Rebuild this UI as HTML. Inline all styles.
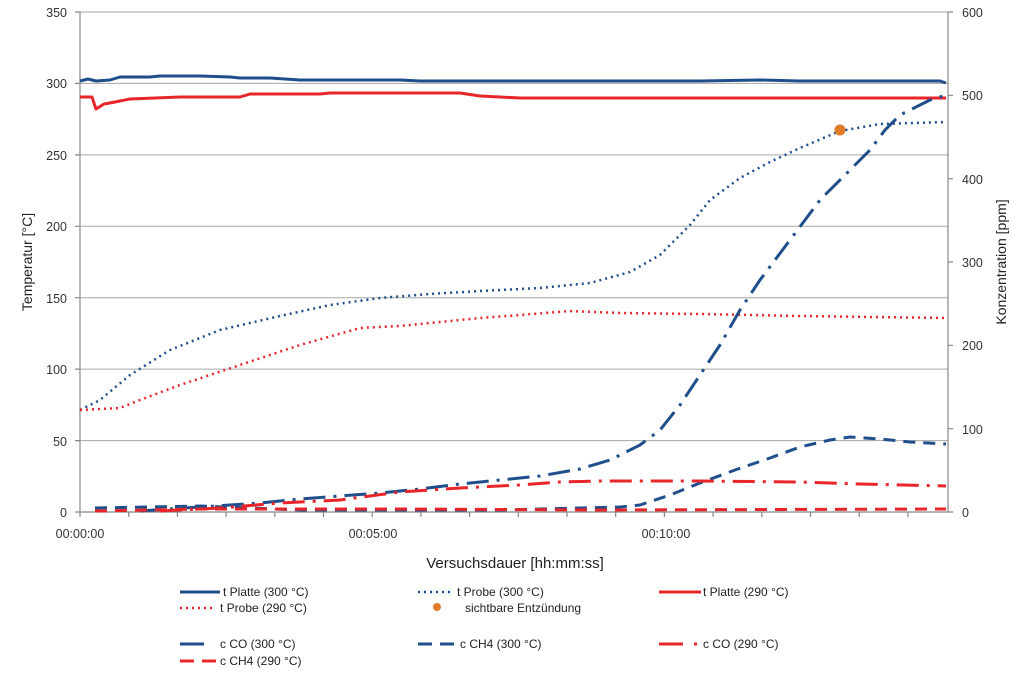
<!DOCTYPE html>
<html><head><meta charset="utf-8"><style>
body{margin:0;background:#fff;}
svg{display:block;font-family:"Liberation Sans",sans-serif;}
</style></head><body>
<svg width="1024" height="678" viewBox="0 0 1024 678">
<g stroke="#a6a6a6" stroke-width="1">
<line x1="80" y1="12" x2="948" y2="12"/><line x1="80" y1="83.4" x2="948" y2="83.4"/>
<line x1="80" y1="154.9" x2="948" y2="154.9"/><line x1="80" y1="226.3" x2="948" y2="226.3"/>
<line x1="80" y1="297.7" x2="948" y2="297.7"/><line x1="80" y1="369.1" x2="948" y2="369.1"/>
<line x1="80" y1="440.6" x2="948" y2="440.6"/>
</g>
<g stroke="#888" stroke-width="1.2" fill="none">
<line x1="80" y1="12" x2="80" y2="512"/><line x1="948" y1="12" x2="948" y2="512"/>
<line x1="75" y1="512" x2="953" y2="512"/>
<path d="M75 12h5M75 83.4h5M75 154.9h5M75 226.3h5M75 297.7h5M75 369.1h5M75 440.6h5"/>
<path d="M948 428.7h5M948 345.3h5M948 262h5M948 178.7h5M948 95.3h5M948 12h5"/>
<path d="M80 512v5M128.7 512v5M177.4 512v5M226.1 512v5M274.8 512v5M323.5 512v5M372.2 512v5M420.9 512v5M469.6 512v5M518.3 512v5M567 512v5M615.7 512v5M664.4 512v5M713.1 512v5M761.8 512v5M810.5 512v5M859.2 512v5M907.9 512v5"/>
</g>
<g font-size="12.5" fill="#333" text-anchor="end">
<text x="67" y="17">350</text><text x="67" y="88">300</text><text x="67" y="160">250</text><text x="67" y="231">200</text><text x="67" y="303">150</text><text x="67" y="374">100</text><text x="67" y="446">50</text><text x="67" y="517">0</text>
</g>
<g font-size="12.5" fill="#333">
<text x="962" y="517">0</text><text x="962" y="434">100</text><text x="962" y="350">200</text><text x="962" y="267">300</text><text x="962" y="184">400</text><text x="962" y="100">500</text><text x="962" y="17">600</text>
</g>
<g font-size="12.5" fill="#333" text-anchor="middle">
<text x="80" y="538">00:00:00</text><text x="373" y="538">00:05:00</text><text x="666" y="538">00:10:00</text>
</g>
<text x="515" y="568" font-size="15" text-anchor="middle" fill="#222">Versuchsdauer [hh:mm:ss]</text>
<text transform="translate(32,262) rotate(-90)" font-size="14" text-anchor="middle" fill="#222">Temperatur [°C]</text>
<text transform="translate(1006,262) rotate(-90)" font-size="14" text-anchor="middle" fill="#222">Konzentration [ppm]</text>

<g fill="none" stroke-linejoin="round">
<polyline stroke="#1f4e8c" stroke-width="3" points="80,81 88,79 96,81 110,80 120,77 150,77 160,76 180,76 200,76 230,77 240,78 270,78 300,80 400,80 420,81 600,81 700,81 760,80 800,81 900,81 940,81 946,83"/>
<polyline stroke="#e8262a" stroke-width="3" points="80,97 92,97 96,109 104,104 115,102 130,99 180,97 240,97 250,94 320,94 330,93 460,93 480,96 500,97 520,98 946,98"/>
<polyline stroke="#1f4e8c" stroke-width="2.5" stroke-dasharray="2,4" points="80,410 100,400 130,375 170,350 220,330 280,316 330,305 380,298 430,294 480,291 540,288 590,283 630,272 660,255 690,225 710,200 740,178 770,162 800,148 840,131 880,124 946,122"/>
<polyline stroke="#e8262a" stroke-width="2.5" stroke-dasharray="2,4" points="80,410 120,408 140,400 180,385 240,365 300,345 360,328 400,326 440,322 480,318 520,315 570,311 620,313 700,314 800,316 946,318"/>
<polyline stroke="#1f4e8c" stroke-width="3" stroke-dasharray="22,8,3,8" points="140,511 200,507 260,503 300,499 340,496 380,493 420,489 460,484 500,480 540,476 580,469 610,460 640,445 660,430 680,405 700,375 720,345 740,310 760,280 790,240 820,200 845,175 870,150 885,130 900,115 930,100 946,95"/>
<polyline stroke="#1f4e8c" stroke-width="3" stroke-dasharray="12,8" points="95,508 200,506 300,510 400,510 500,510 620,507 640,505 670,495 700,483 735,470 770,458 800,447 830,440 850,437 880,439 910,442 946,444"/>
<polyline stroke="#e8262a" stroke-width="3" stroke-dasharray="22,8,3,8" points="160,511 220,508 280,503 340,500 400,492 460,488 520,485 560,482 600,481 700,481 800,482 860,484 946,486"/>
<polyline stroke="#e8262a" stroke-width="3" stroke-dasharray="12,8" points="95,511 200,509 400,509 600,510 946,509"/>
</g>
<circle cx="840" cy="130" r="5.5" fill="#e07b28"/>

<g font-size="12" fill="#222">
<line x1="180" y1="592" x2="220" y2="592" stroke="#1f4e8c" stroke-width="3"/><text x="223" y="596">t Platte (300 °C)</text>
<line x1="418" y1="592" x2="453" y2="592" stroke="#1f4e8c" stroke-width="2.5" stroke-dasharray="2,4"/><text x="457" y="596">t Probe (300 °C)</text>
<line x1="659" y1="592" x2="701" y2="592" stroke="#e8262a" stroke-width="3"/><text x="703" y="596">t Platte (290 °C)</text>
<line x1="180" y1="608" x2="215" y2="608" stroke="#e8262a" stroke-width="2.5" stroke-dasharray="2,4"/><text x="220" y="612">t Probe (290 °C)</text>
<circle cx="437" cy="607" r="4" fill="#e07b28"/><text x="465" y="612">sichtbare Entzündung</text>
<line x1="180" y1="644" x2="204" y2="644" stroke="#1f4e8c" stroke-width="3"/><text x="220" y="648">c CO (300 °C)</text>
<path d="M418 644h14M440 644h14" stroke="#1f4e8c" stroke-width="3"/><text x="460" y="648">c CH4 (300 °C)</text>
<path d="M659 644h24M694 644h3" stroke="#e8262a" stroke-width="3"/><text x="703" y="648">c CO (290 °C)</text>
<path d="M180 661h14M202 661h14" stroke="#e8262a" stroke-width="3"/><text x="220" y="665">c CH4 (290 °C)</text>
</g>
</svg>
</body></html>
